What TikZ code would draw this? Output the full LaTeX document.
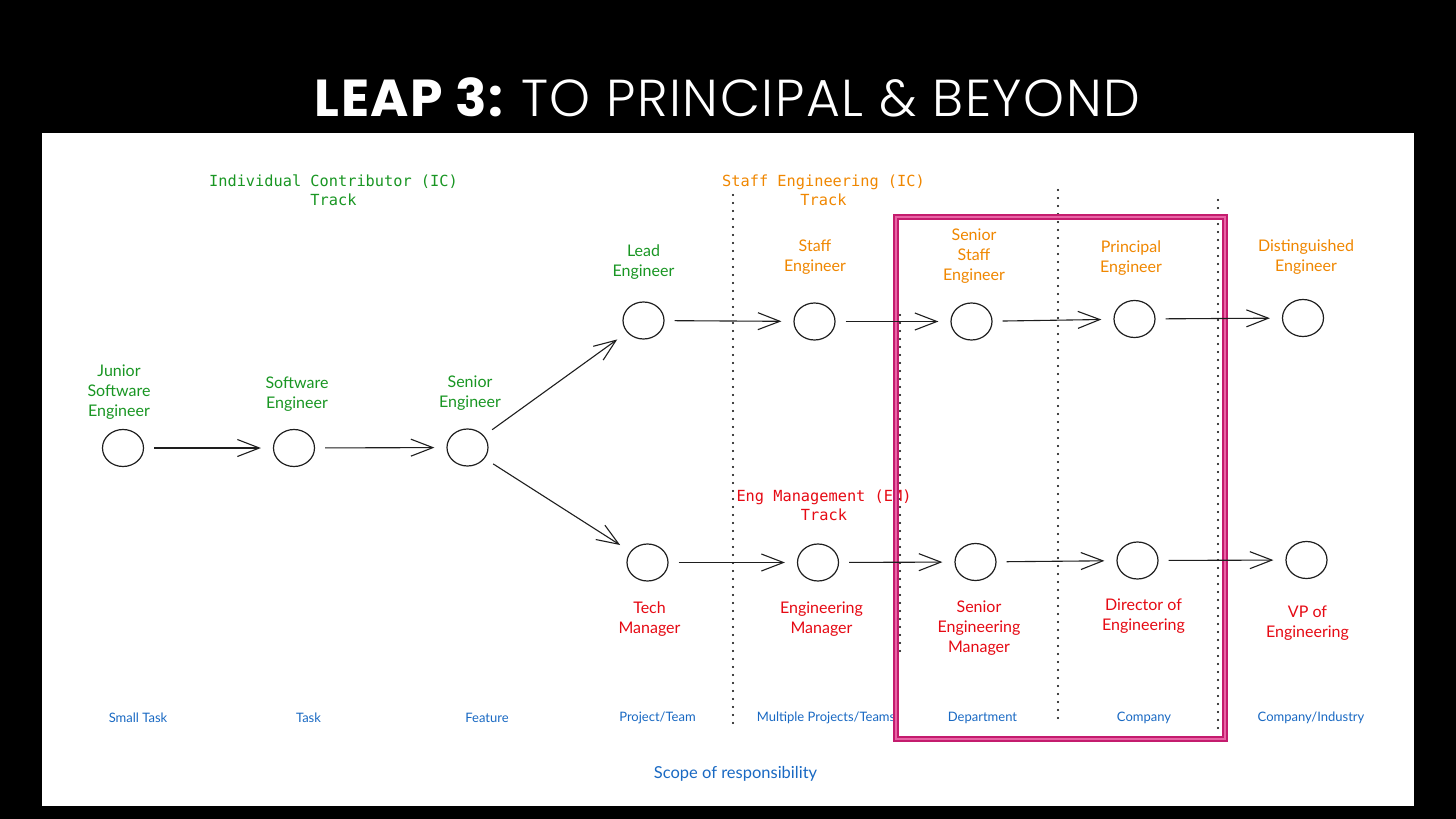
\documentclass[tikz,border=0pt]{standalone}
\usepackage{fontspec}
\setmainfont{Lato}
\newfontfamily\titlefont{Poppins}[LetterSpace=3]
\newfontfamily\titlelight{Poppins Light}[LetterSpace=3]
\newfontfamily\trackfont{DejaVu Sans Mono}
\usetikzlibrary{arrows.meta,shapes.geometric}
\definecolor{icgreen}{RGB}{25,150,35}
\definecolor{stafforange}{RGB}{240,135,0}
\definecolor{emred}{RGB}{230,10,20}
\definecolor{scopeblue}{RGB}{25,105,195}
\definecolor{boxpink}{RGB}{196,28,110}
\definecolor{boxpinklight}{RGB}{232,100,165}
\definecolor{ink}{RGB}{30,30,30}
\begin{document}
\begin{tikzpicture}[x=1pt,y=-1pt,
  role/.style={draw=ink, line width=1.2pt, ellipse, minimum width=41pt, minimum height=37pt, inner sep=0pt},
  lbl/.style={align=center, font=\fontsize{16}{20}\selectfont},
  iclbl/.style={lbl, text=icgreen},
  stafflbl/.style={lbl, text=stafforange},
  emlbl/.style={lbl, text=emred},
  track/.style={align=center, font=\trackfont\fontsize{15.3}{19}\selectfont},
  scopelbl/.style={text=scopeblue, font=\fontsize{13}{15}\selectfont},
  divider/.style={draw=black, line width=2.4pt, dash pattern=on 0pt off 8pt, line cap=round},
  promo/.style={draw=ink, line width=1.1pt, -{Straight Barb[length=22pt,width=17pt,line width=1.1pt]}, shorten <=10pt, shorten >=12pt},
  focusbox/.style={draw=boxpink, double=boxpinklight, double distance=1.2pt, line width=2.4pt, rectangle, inner sep=0pt, minimum width=329pt, minimum height=522pt}
]
\useasboundingbox (0,0) rectangle (1456,819);
\fill[black] (0,0) rectangle (1456,819);
\fill[white] (42,133) rectangle (1414,806);

% title
\node[text=white, inner sep=0pt] (title) at (727.5,97) {\fontsize{52}{52}\selectfont{\titlefont\bfseries LEAP 3:} {\titlelight TO PRINCIPAL \& BEYOND}};

% dotted dividers
\coordinate (d1t) at (733,195); \coordinate (d1b) at (733,730);
\coordinate (d2t) at (1058,190); \coordinate (d2b) at (1058,722);
\coordinate (d3t) at (1218,200); \coordinate (d3b) at (1218,730);
\coordinate (d4t) at (900,315); \coordinate (d4b) at (900,655);
\draw[divider] (d1t) -- (d1b);
\draw[divider] (d2t) -- (d2b);
\draw[divider] (d3t) -- (d3b);
\draw[divider] (d4t) -- (d4b);

% track titles
\node[track, text=icgreen] (ictrack) at (333.5,190) {Individual Contributor (IC)\\Track};
\node[track, text=stafforange] (stafftrack) at (823.5,190) {Staff Engineering (IC)\\Track};
\node[track, text=emred] (emtrack) at (824,505) {Eng Management (EM)\\Track};

% role labels
\node[iclbl] (ljse) at (119,392) {Junior\\Software\\Engineer};
\node[iclbl] (lse) at (297,394) {Software\\Engineer};
\node[iclbl] (lsen) at (470,393) {Senior\\Engineer};
\node[iclbl] (llead) at (643.5,262) {Lead\\Engineer};
\node[stafflbl] (lstaff) at (815,257) {Staff\\Engineer};
\node[stafflbl] (lsstaff) at (974,256) {Senior\\Staff\\Engineer};
\node[stafflbl] (lprinc) at (1131,258) {Principal\\Engineer};
\node[stafflbl] (ldist) at (1306,257.5) {Distinguished\\Engineer};
\node[emlbl] (ltech) at (649.5,619.5) {Tech\\Manager};
\node[emlbl] (lem) at (821.5,619.5) {Engineering\\Manager};
\node[emlbl] (lsem) at (979,628.5) {Senior\\Engineering\\Manager};
\node[emlbl] (ldir) at (1143.5,616) {Director of\\Engineering};
\node[emlbl] (lvp) at (1307.5,623.5) {VP of\\Engineering};

% scope labels
\node[scopelbl] (s1) at (138,718) {Small Task};
\node[scopelbl] (s2) at (308.5,718) {Task};
\node[scopelbl] (s3) at (487,718) {Feature};
\node[scopelbl] (s4) at (657.5,718) {Project/Team};
\node[scopelbl] (s5) at (826,718) {Multiple Projects/Teams};
\node[scopelbl] (s6) at (982.5,718) {Department};
\node[scopelbl] (s7) at (1144,718) {Company};
\node[scopelbl] (s8) at (1311,718) {Company/Industry};
\node[text=scopeblue, font=\fontsize{16.5}{18}\selectfont] (scope) at (735.5,774) {Scope of responsibility};

% focus box
\node[focusbox] (focus) at (1060.5,478) {};

% role circles
\node[role] (jse) at (123,448) {};
\node[role] (se) at (294,448) {};
\node[role] (sen) at (467.5,447.5) {};
\node[role] (lead) at (643.5,320.5) {};
\node[role] (staff) at (814.5,321.5) {};
\node[role] (sstaff) at (971.5,321.5) {};
\node[role] (princ) at (1134.5,319) {};
\node[role] (dist) at (1303,318) {};
\node[role] (tech) at (647.5,562.5) {};
\node[role] (em) at (818,562.5) {};
\node[role] (sem) at (975.5,562) {};
\node[role] (dir) at (1137.5,560.5) {};
\node[role] (vp) at (1306.5,560) {};

% promotions
\draw[promo] (jse) -- (se);
\draw[promo] (se) -- (sen);
\draw[promo] (sen) -- (lead);
\draw[promo] (sen) -- (tech);
\draw[promo] (lead) -- (staff);
\draw[promo] (staff) -- (sstaff);
\draw[promo] (sstaff) -- (princ);
\draw[promo] (princ) -- (dist);
\draw[promo] (tech) -- (em);
\draw[promo] (em) -- (sem);
\draw[promo] (sem) -- (dir);
\draw[promo] (dir) -- (vp);
\end{tikzpicture}
\end{document}
